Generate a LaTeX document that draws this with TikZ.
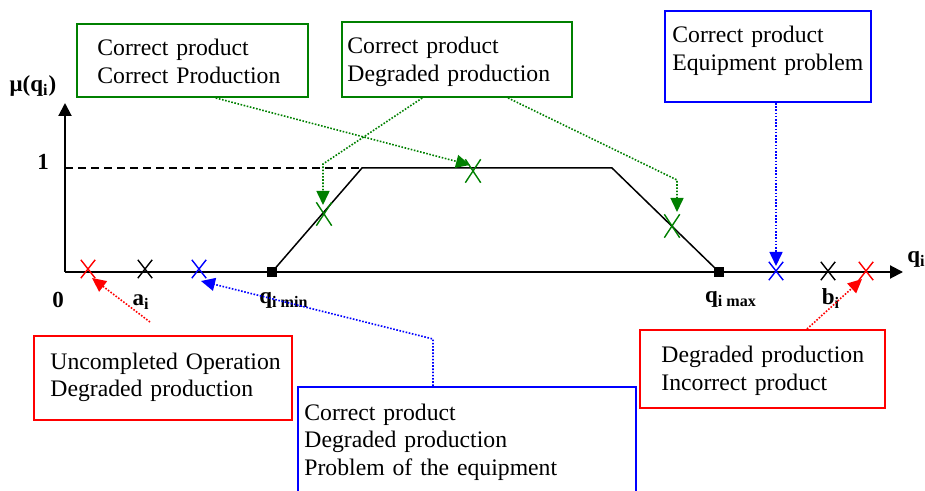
\documentclass[tikz,border=0pt]{standalone}
\usepackage{fontspec}
\setmainfont{Liberation Serif}
\usetikzlibrary{arrows.meta,shapes.misc,calc}
\definecolor{okgreen}{RGB}{0,128,0}
\begin{document}
\begin{tikzpicture}[x=0.5pt,y=-0.5pt,
  boxframe/.style={draw, line width=1pt, inner sep=0pt},
  notes/.style={anchor=base west, align=left, text width=175pt, inner sep=0pt,
                font=\fontsize{11.85}{13.75}\selectfont},
  axlabel/.style={inner sep=0pt, anchor=base, font=\fontsize{11.5}{13}\selectfont\bfseries},
  xmark/.style={cross out, draw, line width=0.7pt, inner sep=0pt,
                minimum width=6.5pt, minimum height=8.5pt},
  gxmark/.style={xmark, draw=okgreen, minimum width=7pt, minimum height=11pt},
  endpoint/.style={rectangle, fill=black, inner sep=0pt, minimum size=5pt},
  axis/.style={line width=1pt, -{Triangle[length=6.5pt,width=6.5pt]}},
  link/.style={line width=0.8pt, dash pattern=on 0.8pt off 0.8pt,
               -{Triangle[length=7pt,width=6.5pt]}}]

\useasboundingbox (0,0) rectangle (925,491);
\clip (0,0) rectangle (925,491);

% axes
\coordinate (O) at (65,272);
\coordinate (ytop) at (65,103);
\coordinate (xend) at (903,272);
\draw[axis] (O) -- (ytop);
\draw[axis] (O) -- (xend);

% membership function
\node[endpoint] (qmin) at (272,272) {};
\node[endpoint] (qmax) at (719,272) {};
\coordinate (tl) at (362,168);
\coordinate (tr) at (612,168);
\draw[dash pattern=on 4pt off 2.5pt, line width=0.6pt] (O |- tl) -- (tl);
\draw[line width=0.75pt] (qmin.center) -- (tl) -- (tr) -- (qmax.center);

% axis labels
\node[axlabel] (mu) at (33,92) {μ(q\textsubscript{i})};
\node[axlabel] (one) at (43,170) {1};
\node[axlabel] (zero) at (58,307) {0};
\node[axlabel] (ai) at (141,306) {a\textsubscript{i}};
\node[axlabel] (qminl) at (284,304) {q\textsubscript{i min}};
\node[axlabel] (qmaxl) at (731,303) {q\textsubscript{i max}};
\node[axlabel] (bi) at (831,305) {b\textsubscript{i}};
\node[axlabel, anchor=base west] (qi) at (907,263) {q\textsubscript{i}};

% marks on the axis
\node[xmark, draw=red] (xRL) at (88,269) {};
\node[xmark] (xA) at (145,269) {};
\node[xmark, draw=blue] (xBL) at (199,269) {};
\node[xmark, draw=blue] (xBR) at (776,271) {};
\node[xmark] (xB) at (828,271) {};
\node[xmark, draw=red] (xRR) at (866,271) {};

% marks on the membership function
\node[gxmark] (xL) at (324,214) {};
\node[gxmark] (xT) at (473,171) {};
\node[gxmark] (xR) at (672,226) {};

% annotation boxes
\node[boxframe, draw=okgreen, minimum width=115.5pt, minimum height=36.5pt] (gA) at (192.5,60.5) {};
\node[notes] (gAt) at (97,56) {Correct product\\Correct Production};

\node[boxframe, draw=okgreen, minimum width=115pt, minimum height=37.5pt] (gB) at (457,59.5) {};
\node[notes] (gBt) at (347,54) {Correct product\\Degraded production};

\node[boxframe, draw=blue, minimum width=103pt, minimum height=45.5pt] (bA) at (768,56.5) {};
\node[notes] (bAt) at (672,43) {Correct product\\Equipment problem};

\node[boxframe, draw=red, minimum width=129pt, minimum height=42pt] (rA) at (163,378) {};
\node[notes] (rAt) at (50,369) {Uncompleted Operation\\Degraded production};

\node[boxframe, draw=blue, minimum width=169pt, minimum height=66.5pt] (bB) at (467,453.5) {};
\node[notes] (bBt) at (304,420) {Correct product\\Degraded production\\Problem of the equipment};

\node[boxframe, draw=red, minimum width=122.5pt, minimum height=39pt] (rB) at (762.5,369) {};
\node[notes] (rBt) at (661,363) {Degraded production\\Incorrect product};

% connectors
\draw[link, okgreen] ($(gA.south west)!0.6!(gA.south east)$) -- ([shift={(-3,-6)}]xT.center);
\draw[link, okgreen] ($(gB.south west)!0.35!(gB.south east)$)
  -- ([shift={(-1,-50)}]xL.center) -- ([shift={(-1,-9)}]xL.center);
\draw[link, okgreen] ($(gB.south west)!0.72!(gB.south east)$)
  -- ([shift={(5,-46)}]xR.center) -- ([shift={(5,-14)}]xR.center);
\draw[link, blue] (bA.south -| xBR) -- ([shift={(0,-5)}]xBR.center);
\draw[link, red] ($(rB.north west)!0.68!(rB.north east)$) -- ([shift={(-4,8)}]xRR.center);
\draw[link, red] ([shift={(-13,-13)}]rA.north) -- ([shift={(4,9)}]xRL.center);
\draw[link, blue] ($(bB.north west)!0.4!(bB.north east)$) -- ++(0,-47)
  -- ([shift={(2,12)}]xBL.center);
\end{tikzpicture}
\end{document}
